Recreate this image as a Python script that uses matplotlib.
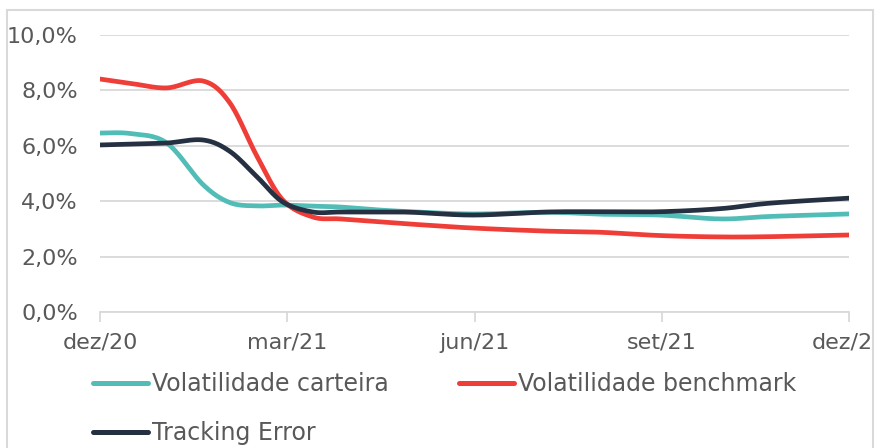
import numpy as np
import matplotlib
matplotlib.use("Agg")
import matplotlib.pyplot as plt
from matplotlib.lines import Line2D
from matplotlib.patches import Rectangle

# ---- data (months since dez/20) ----
months = [0, 0.5, 1.07, 1.65, 2.08, 2.52, 2.93, 3.41, 3.85, 4.49, 5.0, 5.98, 7.16, 8.0, 8.97, 9.94, 10.74, 12]
vol_carteira = [6.46, 6.44, 6.10, 4.60, 3.95, 3.83, 3.86, 3.82, 3.79, 3.68, 3.62, 3.54, 3.60, 3.53, 3.50, 3.36, 3.45, 3.54]
vol_benchmark = [8.41, 8.25, 8.09, 8.34, 7.55, 5.60, 4.04, 3.43, 3.36, 3.25, 3.17, 3.03, 2.92, 2.88, 2.76, 2.71, 2.72, 2.78]
tracking_error = [6.03, 6.06, 6.10, 6.21, 5.80, 4.87, 3.97, 3.61, 3.61, 3.61, 3.60, 3.50, 3.61, 3.62, 3.62, 3.73, 3.93, 4.11]
tick_months = [0, 3, 6, 9, 12]
tick_labels = ["dez/20", "mar/21", "jun/21", "set/21", "dez/21"]
names = ["Volatilidade carteira", "Volatilidade benchmark", "Tracking Error"]
colors = ["#52BCB7", "#EF3D38", "#253142"]


def catmull_rom(x, y, n=30):
    p = np.column_stack([x, y]).astype(float)
    p = np.vstack([p[0], p, p[-1]])
    out = []
    t = np.linspace(0, 1, n, endpoint=False)[:, None]
    for i in range(1, len(p) - 2):
        p0, p1, p2, p3 = p[i - 1], p[i], p[i + 1], p[i + 2]
        m1 = (p2 - p0) / 2
        m2 = (p3 - p1) / 2
        h00 = 2 * t**3 - 3 * t**2 + 1
        h10 = t**3 - 2 * t**2 + t
        h01 = -2 * t**3 + 3 * t**2
        h11 = t**3 - t**2
        out.append(h00 * p1 + h10 * m1 + h01 * p2 + h11 * m2)
    out.append(p[-2][None, :])
    out = np.vstack(out)
    return out[:, 0], out[:, 1]


fig = plt.figure(figsize=(8.75, 4.48), dpi=100)
W, H = 875, 448
ax = fig.add_axes([100 / W, (H - 312) / H, 749 / W, 277 / H])

for ys, c, name in zip([vol_carteira, vol_benchmark, tracking_error], colors, names):
    sx, sy = catmull_rom(months, ys)
    ax.plot(sx, sy, color=c, lw=3.4, solid_capstyle="round", label=name)

ax.set_xlim(0, 12)
ax.set_ylim(0, 10)
ax.set_yticks(np.arange(0, 10.1, 2))
ax.set_yticklabels([f"{v:.1f}%".replace(".", ",") for v in np.arange(0, 10.1, 2)])
ax.set_xticks(tick_months)
ax.set_xticklabels(tick_labels)
ax.grid(axis="y", color="#D9D9D9", lw=1.3)
ax.set_axisbelow(True)
for s in ["top", "right", "left"]:
    ax.spines[s].set_visible(False)
ax.spines["bottom"].set_color("#D9D9D9")
ax.spines["bottom"].set_linewidth(1.3)
ax.tick_params(axis="y", length=0, pad=16, labelsize=16, labelcolor="#595959")
ax.tick_params(axis="x", length=7, width=1.3, color="#D9D9D9", pad=8, labelsize=16, labelcolor="#595959")

handles = [Line2D([], [], color=c, lw=3.6, solid_capstyle="round") for c in colors]
order = [0, 2, 1]
leg = fig.legend([handles[i] for i in order], [names[i] for i in order],
                 loc="upper left", bbox_to_anchor=(93 / W, 1 - 372 / H),
                 ncol=2, frameon=False, fontsize=17, labelcolor="#595959",
                 handlelength=2.33, handletextpad=0.17, columnspacing=2.97, labelspacing=1.07,
                 borderaxespad=0, borderpad=0)

border = Rectangle((7 / W, -0.1), 866 / W, 1.1 - 10 / H, transform=fig.transFigure,
                   fill=False, edgecolor="#D9D9D9", lw=1.5, zorder=10)
fig.patches.append(border)
for lbl in ax.get_xticklabels():
    lbl.set_clip_path(Rectangle((0, 0), 873, H, transform=None))
    lbl.set_clip_on(True)
fig.savefig("out.png", dpi=100)
